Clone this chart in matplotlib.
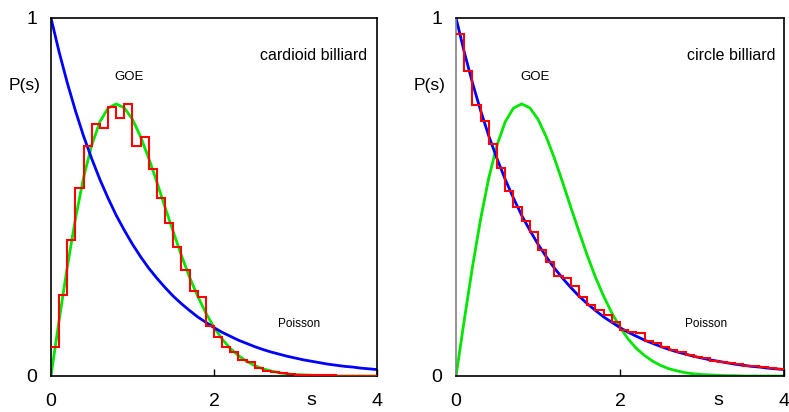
#!/usr/bin/env python3
"""
Level spacing distributions: cardioid billiard vs circle billiard
"""

import numpy as np
import matplotlib
matplotlib.use("Agg")
import matplotlib.pyplot as plt

plt.rcParams['font.family'] = ['Liberation Sans', 'DejaVu Sans']

# spacing grid (step 0.1)
s_grid = [0.0, 0.1, 0.2, 0.3, 0.4, 0.5, 0.6, 0.7, 0.8, 0.9,
          1.0, 1.1, 1.2, 1.3, 1.4, 1.5, 1.6, 1.7, 1.8, 1.9,
          2.0, 2.1, 2.2, 2.3, 2.4, 2.5, 2.6, 2.7, 2.8, 2.9,
          3.0, 3.1, 3.2, 3.3, 3.4, 3.5, 3.6, 3.7, 3.8, 3.9, 4.0]

# blue curve (Poisson)
poisson = [1.000, 0.905, 0.819, 0.741, 0.670, 0.607, 0.549, 0.497, 0.449, 0.407,
           0.368, 0.333, 0.301, 0.273, 0.247, 0.223, 0.202, 0.183, 0.165, 0.150,
           0.135, 0.122, 0.111, 0.100, 0.091, 0.082, 0.074, 0.067, 0.061, 0.055,
           0.050, 0.045, 0.041, 0.037, 0.033, 0.030, 0.027, 0.025, 0.022, 0.020, 0.018]

# green curve (GOE)
goe = [0.000, 0.156, 0.304, 0.439, 0.554, 0.645, 0.710, 0.748, 0.760, 0.749,
       0.717, 0.668, 0.608, 0.541, 0.471, 0.403, 0.337, 0.276, 0.223, 0.176,
       0.136, 0.103, 0.077, 0.057, 0.041, 0.029, 0.020, 0.014, 0.009, 0.006,
       0.004, 0.003, 0.002, 0.001, 0.001, 0.000, 0.000, 0.000, 0.000, 0.000, 0.000]

# red histograms, one value per 0.1 bin from 0 to 4
hist_cardioid = [0.082, 0.226, 0.380, 0.524, 0.643, 0.703, 0.694, 0.750, 0.720, 0.760,
                 0.643, 0.667, 0.577, 0.498, 0.428, 0.360, 0.296, 0.236, 0.222, 0.140,
                 0.110, 0.082, 0.066, 0.045, 0.038, 0.022, 0.015, 0.010, 0.008, 0.005,
                 0.003, 0.003, 0.002, 0.002, 0.002, 0.001, 0.001, 0.001, 0.001, 0.001]

hist_circle = [0.954, 0.852, 0.757, 0.713, 0.647, 0.580, 0.518, 0.473, 0.433, 0.401,
               0.352, 0.318, 0.280, 0.275, 0.251, 0.220, 0.198, 0.184, 0.170, 0.152,
               0.128, 0.124, 0.119, 0.098, 0.091, 0.082, 0.073, 0.066, 0.058, 0.053,
               0.049, 0.043, 0.040, 0.036, 0.033, 0.029, 0.027, 0.024, 0.022, 0.020]

panels = [("cardioid billiard", hist_cardioid, 3.22), ("circle billiard", hist_circle, 3.36)]

BLUE = '#0000ff'
GREEN = '#00e600'
RED = '#ff0000'

fig = plt.figure(figsize=(7.89, 4.12), dpi=100)
ax_left = fig.add_axes([0.0646, 0.0874, 0.4132, 0.869])
ax_right = fig.add_axes([0.5780, 0.0874, 0.4157, 0.869])

edges = np.linspace(0, 4, len(hist_cardioid) + 1)

for ax, (title, hist, title_x) in zip([ax_left, ax_right], panels):
    ax.plot(s_grid, goe, color=GREEN, lw=2.0, zorder=2)
    ax.stairs(hist, edges, baseline=None, color=RED, lw=1.5, zorder=3)
    ax.plot(s_grid, poisson, color=BLUE, lw=2.0, zorder=2.5)

    ax.set_xlim(0, 4)
    ax.set_ylim(0, 1)

    # ticks: only 0, 2, 4 on x and 0, 1 on y
    ax.set_xticks([0, 2, 4])
    ax.set_xticklabels(['0', '2', '4'])
    ax.set_yticks([0, 1])
    ax.set_yticklabels(['0', '1'])
    ax.tick_params(axis='x', direction='in', length=5, width=1, pad=12, labelsize=14)
    ax.tick_params(axis='y', length=0, pad=10, labelsize=14)

    for sp in ax.spines.values():
        sp.set_linewidth(1.2)
        sp.set_color('black')

    ax.set_xlabel('s', fontsize=14)
    ax.xaxis.set_label_coords(0.80, -0.045)
    ax.set_ylabel('P(s)', fontsize=12.5, rotation=0)
    ax.yaxis.set_label_coords(-0.08, 0.79)

    ax.text(0.96, 0.835, 'GOE', fontsize=9.5, ha='center', va='center')
    ax.text(3.05, 0.145, 'Poisson', fontsize=8.5, ha='center', va='center')
    ax.text(title_x, 0.895, title, fontsize=11.5, ha='center', va='center')

# left axis of the right panel is drawn in grey
ax_right.spines['left'].set_color('#808080')

plt.savefig('out.png', dpi=100)
